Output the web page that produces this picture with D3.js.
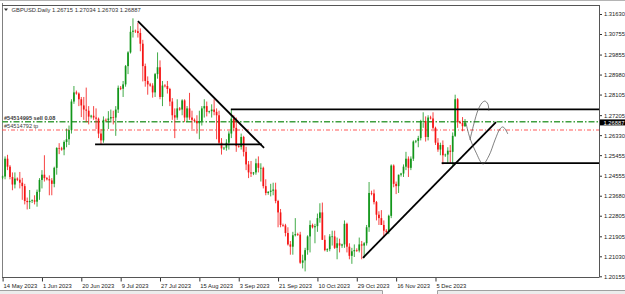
<!DOCTYPE html>
<html>
<head>
<meta charset="utf-8">
<script src="https://cdn.jsdelivr.net/npm/d3@7"></script>
<style>
  body { margin: 0; background: #fff; }
  svg { display: block; }
  text { font-family: "Liberation Sans", Arial, sans-serif; }
</style>
</head>
<body>
<script>
window.document.addEventListener('DOMContentLoaded', init, false);

// one bar per trading day, Sunday bars included (6 per week)
var dates = [
    '2023-05-14','2023-05-15','2023-05-16','2023-05-17','2023-05-18','2023-05-19',
    '2023-05-21','2023-05-22','2023-05-23','2023-05-24','2023-05-25','2023-05-26',
    '2023-05-28','2023-05-29','2023-05-30','2023-05-31','2023-06-01','2023-06-02',
    '2023-06-04','2023-06-05','2023-06-06','2023-06-07','2023-06-08','2023-06-09',
    '2023-06-11','2023-06-12','2023-06-13','2023-06-14','2023-06-15','2023-06-16',
    '2023-06-18','2023-06-19','2023-06-20','2023-06-21','2023-06-22','2023-06-23',
    '2023-06-25','2023-06-26','2023-06-27','2023-06-28','2023-06-29','2023-06-30',
    '2023-07-02','2023-07-03','2023-07-04','2023-07-05','2023-07-06','2023-07-07',
    '2023-07-09','2023-07-10','2023-07-11','2023-07-12','2023-07-13','2023-07-14',
    '2023-07-16','2023-07-17','2023-07-18','2023-07-19','2023-07-20','2023-07-21',
    '2023-07-23','2023-07-24','2023-07-25','2023-07-26','2023-07-27','2023-07-28',
    '2023-07-30','2023-07-31','2023-08-01','2023-08-02','2023-08-03','2023-08-04',
    '2023-08-06','2023-08-07','2023-08-08','2023-08-09','2023-08-10','2023-08-11',
    '2023-08-13','2023-08-14','2023-08-15','2023-08-16','2023-08-17','2023-08-18',
    '2023-08-20','2023-08-21','2023-08-22','2023-08-23','2023-08-24','2023-08-25',
    '2023-08-27','2023-08-28','2023-08-29','2023-08-30','2023-08-31','2023-09-01',
    '2023-09-03','2023-09-04','2023-09-05','2023-09-06','2023-09-07','2023-09-08',
    '2023-09-10','2023-09-11','2023-09-12','2023-09-13','2023-09-14','2023-09-15',
    '2023-09-17','2023-09-18','2023-09-19','2023-09-20','2023-09-21','2023-09-22',
    '2023-09-24','2023-09-25','2023-09-26','2023-09-27','2023-09-28','2023-09-29',
    '2023-10-01','2023-10-02','2023-10-03','2023-10-04','2023-10-05','2023-10-06',
    '2023-10-08','2023-10-09','2023-10-10','2023-10-11','2023-10-12','2023-10-13',
    '2023-10-15','2023-10-16','2023-10-17','2023-10-18','2023-10-19','2023-10-20',
    '2023-10-22','2023-10-23','2023-10-24','2023-10-25','2023-10-26','2023-10-27',
    '2023-10-29','2023-10-30','2023-10-31','2023-11-01','2023-11-02','2023-11-03',
    '2023-11-05','2023-11-06','2023-11-07','2023-11-08','2023-11-09','2023-11-10',
    '2023-11-12','2023-11-13','2023-11-14','2023-11-15','2023-11-16','2023-11-17',
    '2023-11-19','2023-11-20','2023-11-21','2023-11-22','2023-11-23','2023-11-24',
    '2023-11-26','2023-11-27','2023-11-28','2023-11-29','2023-11-30','2023-12-01',
    '2023-12-03','2023-12-04','2023-12-05','2023-12-06','2023-12-07','2023-12-08',
    '2023-12-10','2023-12-11','2023-12-12','2023-12-13','2023-12-14','2023-12-15',
    '2023-12-17','2023-12-18','2023-12-19'
];

var opens = [
    1.2448,1.2452,1.2530,1.2495,1.2450,1.2417,
    1.2443,1.2438,1.2425,1.2410,1.2345,1.2340,
    1.2345,1.2348,1.2342,1.2385,1.2437,1.2460,
    1.2445,1.2440,1.2435,1.2420,1.2490,1.2577,
    1.2575,1.2570,1.2603,1.2615,1.2655,1.2780,
    1.2820,1.2815,1.2790,1.2763,1.2745,1.2740,
    1.2714,1.2718,1.2710,1.2705,1.2640,1.2610,
    1.2700,1.2698,1.2706,1.2712,1.2710,1.2745,
    1.2840,1.2836,1.2855,1.2935,1.2995,1.3085,
    1.3090,1.3088,1.3080,1.3033,1.2935,1.2870,
    1.2855,1.2850,1.2820,1.2900,1.2930,1.2800,
    1.2850,1.2848,1.2835,1.2780,1.2720,1.2710,
    1.2750,1.2745,1.2785,1.2710,1.2750,1.2710,
    1.2700,1.2695,1.2685,1.2695,1.2750,1.2760,
    1.2735,1.2738,1.2745,1.2735,1.2720,1.2600,
    1.2575,1.2578,1.2600,1.2640,1.2705,1.2665,
    1.2585,1.2582,1.2625,1.2560,1.2505,1.2470,
    1.2465,1.2470,1.2510,1.2490,1.2490,1.2410,
    1.2380,1.2385,1.2390,1.2395,1.2345,1.2295,
    1.2240,1.2238,1.2205,1.2155,1.2145,1.2195,
    1.2200,1.2198,1.2075,1.2085,1.2130,1.2190,
    1.2240,1.2230,1.2235,1.2270,1.2295,1.2175,
    1.2130,1.2134,1.2190,1.2190,1.2140,1.2160,
    1.2150,1.2155,1.2245,1.2145,1.2105,1.2125,
    1.2130,1.2128,1.2155,1.2150,1.2160,1.2230,
    1.2380,1.2378,1.2340,1.2285,1.2270,1.2240,
    1.2215,1.2210,1.2280,1.2500,1.2420,1.2410,
    1.2460,1.2465,1.2495,1.2530,1.2490,1.2530,
    1.2605,1.2608,1.2620,1.2695,1.2695,1.2625,
    1.2710,1.2706,1.2665,1.2600,1.2570,1.2590,
    1.2545,1.2548,1.2565,1.2560,1.2630,1.2790,
    1.2690,1.2686,1.26715
];

var highs = [
    1.2456,1.2540,1.2547,1.2502,1.2470,1.2470,
    1.2448,1.2472,1.2446,1.2420,1.2360,1.2393,
    1.2352,1.2370,1.2395,1.2445,1.2480,1.2545,
    1.2450,1.2457,1.2445,1.2495,1.2580,1.2598,
    1.2582,1.2610,1.2662,1.2675,1.2790,1.2848,
    1.2828,1.2820,1.2800,1.2800,1.2841,1.2760,
    1.2722,1.2760,1.2750,1.2710,1.2660,1.2715,
    1.2706,1.2738,1.2745,1.2740,1.2760,1.2850,
    1.2848,1.2870,1.2940,1.3000,1.3110,1.3144,
    1.3095,1.3125,1.3100,1.3050,1.2946,1.2890,
    1.2862,1.2860,1.2905,1.2995,1.2960,1.2870,
    1.2856,1.2870,1.2840,1.2795,1.2750,1.2790,
    1.2756,1.2790,1.2790,1.2760,1.2818,1.2740,
    1.2706,1.2720,1.2740,1.2760,1.2790,1.2780,
    1.2740,1.2768,1.2790,1.2750,1.2740,1.2620,
    1.2582,1.2615,1.2650,1.2746,1.2720,1.2710,
    1.2592,1.2640,1.2630,1.2582,1.2520,1.2520,
    1.2472,1.2530,1.2540,1.2510,1.2495,1.2440,
    1.2388,1.2420,1.2425,1.2425,1.2350,1.2310,
    1.2246,1.2245,1.2230,1.2170,1.2210,1.2270,
    1.2206,1.2210,1.2110,1.2140,1.2195,1.2260,
    1.2246,1.2245,1.2290,1.2335,1.2338,1.2195,
    1.2138,1.2200,1.2215,1.2215,1.2185,1.2180,
    1.2158,1.2260,1.2250,1.2160,1.2140,1.2155,
    1.2138,1.2185,1.2170,1.2165,1.2240,1.2428,
    1.2390,1.2395,1.2345,1.2300,1.2305,1.2260,
    1.2222,1.2285,1.2505,1.2505,1.2430,1.2460,
    1.2468,1.2505,1.2560,1.2540,1.2540,1.2610,
    1.2612,1.2630,1.2700,1.2733,1.2715,1.2720,
    1.2718,1.2733,1.2670,1.2620,1.2600,1.2610,
    1.2552,1.2580,1.2590,1.2645,1.2810,1.2795,
    1.2696,1.2712,1.27034
];

var lows = [
    1.2440,1.2440,1.2480,1.2440,1.2392,1.2400,
    1.2432,1.2400,1.2350,1.2330,1.2308,1.2310,
    1.2336,1.2330,1.2320,1.2350,1.2400,1.2430,
    1.2435,1.2370,1.2370,1.2405,1.2460,1.2550,
    1.2565,1.2545,1.2580,1.2590,1.2640,1.2770,
    1.2810,1.2760,1.2712,1.2700,1.2690,1.2680,
    1.2706,1.2700,1.2660,1.2620,1.2590,1.2600,
    1.2692,1.2660,1.2695,1.2680,1.2630,1.2730,
    1.2830,1.2800,1.2845,1.2900,1.2990,1.3060,
    1.3080,1.3060,1.3000,1.2868,1.2845,1.2810,
    1.2845,1.2797,1.2800,1.2880,1.2790,1.2760,
    1.2842,1.2815,1.2760,1.2700,1.2620,1.2700,
    1.2740,1.2720,1.2690,1.2690,1.2700,1.2660,
    1.2690,1.2640,1.2615,1.2675,1.2710,1.2715,
    1.2728,1.2710,1.2720,1.2615,1.2590,1.2548,
    1.2568,1.2565,1.2570,1.2620,1.2650,1.2560,
    1.2578,1.2570,1.2540,1.2480,1.2445,1.2450,
    1.2458,1.2460,1.2470,1.2430,1.2400,1.2370,
    1.2372,1.2365,1.2370,1.2335,1.2230,1.2230,
    1.2232,1.2190,1.2150,1.2110,1.2110,1.2190,
    1.2192,1.2070,1.2050,1.2037,1.2110,1.2120,
    1.2225,1.2160,1.2210,1.2250,1.2175,1.2125,
    1.2122,1.2125,1.2150,1.2135,1.2090,1.2120,
    1.2140,1.2140,1.2120,1.2090,1.2070,1.2100,
    1.2122,1.2120,1.2090,1.2095,1.2150,1.2210,
    1.2370,1.2330,1.2260,1.2240,1.2240,1.2187,
    1.2205,1.2200,1.2270,1.2405,1.2375,1.2380,
    1.2452,1.2450,1.2480,1.2450,1.2480,1.2520,
    1.2598,1.2580,1.2610,1.2665,1.2605,1.2610,
    1.2702,1.2650,1.2590,1.2560,1.2545,1.2505,
    1.2538,1.2510,1.2510,1.2500,1.2625,1.2665,
    1.2682,1.2650,1.26703
];

var closes = [
    1.2452,1.2530,1.2495,1.2450,1.2417,1.2443,
    1.2438,1.2425,1.2410,1.2345,1.2340,1.2345,
    1.2348,1.2342,1.2385,1.2437,1.2460,1.2445,
    1.2440,1.2435,1.2420,1.2490,1.2577,1.2575,
    1.2570,1.2603,1.2615,1.2655,1.2780,1.2820,
    1.2815,1.2790,1.2763,1.2745,1.2740,1.2714,
    1.2718,1.2710,1.2705,1.2640,1.2610,1.2700,
    1.2698,1.2706,1.2712,1.2710,1.2745,1.2840,
    1.2836,1.2855,1.2935,1.2995,1.3085,1.3090,
    1.3088,1.3080,1.3033,1.2935,1.2870,1.2855,
    1.2850,1.2820,1.2900,1.2930,1.2800,1.2850,
    1.2848,1.2835,1.2780,1.2720,1.2710,1.2750,
    1.2745,1.2785,1.2710,1.2750,1.2710,1.2700,
    1.2695,1.2685,1.2695,1.2750,1.2760,1.2735,
    1.2738,1.2745,1.2735,1.2720,1.2600,1.2575,
    1.2578,1.2600,1.2640,1.2705,1.2665,1.2585,
    1.2582,1.2625,1.2560,1.2505,1.2470,1.2465,
    1.2470,1.2510,1.2490,1.2490,1.2410,1.2380,
    1.2385,1.2390,1.2395,1.2345,1.2295,1.2240,
    1.2238,1.2205,1.2155,1.2145,1.2195,1.2200,
    1.2198,1.2075,1.2085,1.2130,1.2190,1.2240,
    1.2230,1.2235,1.2270,1.2295,1.2175,1.2130,
    1.2134,1.2190,1.2190,1.2140,1.2160,1.2150,
    1.2155,1.2245,1.2145,1.2105,1.2125,1.2130,
    1.2128,1.2155,1.2150,1.2160,1.2230,1.2380,
    1.2378,1.2340,1.2285,1.2270,1.2240,1.2215,
    1.2210,1.2280,1.2500,1.2420,1.2410,1.2460,
    1.2465,1.2495,1.2530,1.2490,1.2530,1.2605,
    1.2608,1.2620,1.2695,1.2695,1.2625,1.2710,
    1.2706,1.2665,1.2600,1.2570,1.2590,1.2545,
    1.2548,1.2565,1.2560,1.2630,1.2790,1.2690,
    1.2686,1.2672,1.26887
];

var timeTicks = ['2023-05-14','2023-06-01','2023-06-20','2023-07-09','2023-07-27','2023-08-15',
                 '2023-09-03','2023-09-21','2023-10-10','2023-10-29','2023-11-16','2023-12-05'];
var priceTicks = [1.31630, 1.30755, 1.29855, 1.28980, 1.28105, 1.27205, 1.26330,
                  1.25455, 1.24555, 1.23680, 1.22805, 1.21905, 1.21030, 1.20155];

var symbol = 'GBPUSD.Daily';
var sellOrder = { label: '#54514995 sell 0.08', price: 1.26918 };
var takeProfit = { label: '#54514792 tp', price: 1.26555 };

// hand drawn objects, as [bar number, price]
var trendDown = [[55.0, 1.3132], [106.3, 1.2577]];
var supportLeft = [[37.6, 1.2593], [105.4, 1.2593]];
var trendUp = [[146.5, 1.2096], [200.6, 1.2690]];
var levelTop = [92.8, 1.2746];      // runs to the right edge
var levelBottom = [178.5, 1.2511];  // runs to the right edge
var sketchDown = [[188.4, 1.2686], [190.0, 1.2620], [192.4, 1.2559], [195.3, 1.2507], [197.7, 1.2542],
                  [200.2, 1.2612], [202.2, 1.2660], [203.4, 1.2669], [204.6, 1.2655], [205.4, 1.2638]];
var sketchUp = [[190.0, 1.2612], [191.6, 1.2682], [193.3, 1.2743], [194.9, 1.2774], [196.1, 1.2782],
                [197.3, 1.2769], [197.7, 1.2739]];

var svg, x, y;
var width = 625;
var height = 294;
var plotLeft = 2, plotRight = 599, plotTop = 5, plotBottom = 277;
var bullColor = '#12961a';
var bearColor = '#f51414';

function init() {
    svg = createCanvas();
    x = d3.scaleLinear().domain([0, dates.length - 1]).range([2.6, 465]);
    y = d3.scaleLinear().domain([1.20155, 1.31630]).range([276.3, 14]);

    drawWindow();
    drawOrderLines();
    drawCandles();
    drawTrendLines();
    drawSketches();
    drawPriceAxis();
    drawTimeAxis();
    drawHeader();
}

function createCanvas() {
    return d3.select('body')
        .append('svg')
        .attr('width', width)
        .attr('height', height);
}

function drawWindow() {
    svg.append('rect').attr('width', width).attr('height', height).attr('fill', '#fff');
    // top border and left edge of the chart
    svg.append('line').attr('x1', 0).attr('x2', width).attr('y1', 0.5).attr('y2', 0.5)
        .attr('stroke', '#b4b4b4');
    svg.append('line').attr('x1', plotLeft + 0.5).attr('x2', plotLeft + 0.5)
        .attr('y1', 3).attr('y2', plotBottom).attr('stroke', '#808080');
    // tab strip at the bottom
    svg.append('rect').attr('x', 0).attr('y', 291).attr('width', width).attr('height', 3).attr('fill', '#ececec');
    svg.append('rect').attr('x', 382).attr('y', 290).attr('width', 56).attr('height', 4).attr('fill', '#fff');
    svg.append('path')
        .attr('d', 'M0,290.5H382.5V294M437.5,294V290.5H625')
        .attr('fill', 'none').attr('stroke', '#a0a0a0');
}

function drawOrderLines() {
    var g = svg.append('g');
    g.append('line')
        .attr('x1', plotLeft).attr('x2', plotRight)
        .attr('y1', y(sellOrder.price)).attr('y2', y(sellOrder.price))
        .attr('stroke', '#3f9f3f').attr('stroke-width', 1.6)
        .attr('stroke-dasharray', '6,2,1.5,2');
    g.append('line')
        .attr('x1', plotLeft).attr('x2', plotRight)
        .attr('y1', y(takeProfit.price)).attr('y2', y(takeProfit.price))
        .attr('stroke', '#ff4646').attr('stroke-width', 0.9)
        .attr('stroke-dasharray', '4,2,1,2');
    g.append('text')
        .attr('x', 4).attr('y', y(sellOrder.price) - 2)
        .attr('font-size', 5.6).attr('font-weight', 'bold').attr('fill', '#3a3a3a')
        .text(sellOrder.label);
    g.append('text')
        .attr('x', 4).attr('y', y(takeProfit.price) - 1.8)
        .attr('font-size', 5.6).attr('fill', '#3a3a3a')
        .text(takeProfit.label);
}

function drawCandles() {
    var bars = svg.append('g')
        .selectAll('g')
        .data(dates)
        .enter()
        .append('g')
        .attr('fill', function(d, i) { return closes[i] >= opens[i] ? bullColor : bearColor; })
        .attr('stroke', function(d, i) { return closes[i] >= opens[i] ? bullColor : bearColor; });

    bars.append('line')
        .attr('x1', function(d, i) { return x(i); })
        .attr('x2', function(d, i) { return x(i); })
        .attr('y1', function(d, i) { return y(highs[i]); })
        .attr('y2', function(d, i) { return y(lows[i]); })
        .attr('stroke-width', 0.8);

    bars.append('rect')
        .attr('x', function(d, i) { return x(i) - 0.85; })
        .attr('width', 1.7)
        .attr('y', function(d, i) { return y(Math.max(opens[i], closes[i])); })
        .attr('height', function(d, i) {
            return Math.max(0.7, Math.abs(y(opens[i]) - y(closes[i])));
        })
        .attr('stroke', 'none');
}

function drawTrendLines() {
    var g = svg.append('g').attr('stroke', '#000').attr('stroke-width', 1.8).attr('fill', 'none');
    var line = d3.line().x(function(p) { return x(p[0]); }).y(function(p) { return y(p[1]); });
    [trendDown, supportLeft, trendUp].forEach(function(seg) {
        g.append('path').attr('d', line(seg));
    });
    [levelTop, levelBottom].forEach(function(lv) {
        g.append('line')
            .attr('x1', x(lv[0])).attr('x2', plotRight)
            .attr('y1', y(lv[1])).attr('y2', y(lv[1]));
    });
}

function drawSketches() {
    var line = d3.line()
        .x(function(p) { return x(p[0]); })
        .y(function(p) { return y(p[1]); })
        .curve(d3.curveCatmullRom);
    [sketchDown, sketchUp].forEach(function(s) {
        svg.append('path')
            .attr('d', line(s))
            .attr('fill', 'none')
            .attr('stroke', '#4a4a4a')
            .attr('stroke-width', 0.7);
    });
}

function drawPriceAxis() {
    var axis = d3.axisRight(y)
        .tickValues(priceTicks)
        .tickFormat(d3.format('.5f'))
        .tickSize(2.5)
        .tickPadding(2);
    var g = svg.append('g')
        .attr('transform', 'translate(' + (plotRight + 0.5) + ',0)')
        .call(axis);
    g.select('.domain').remove();
    g.selectAll('line').attr('stroke', '#333');
    g.selectAll('text').attr('font-size', 5.8).attr('fill', '#222')
        .attr('font-family', '"Liberation Sans", Arial, sans-serif');

    svg.append('line')
        .attr('x1', plotRight + 0.5).attr('x2', plotRight + 0.5)
        .attr('y1', plotTop).attr('y2', plotBottom)
        .attr('stroke', '#555');
    svg.append('line')
        .attr('x1', plotLeft).attr('x2', plotRight + 0.5)
        .attr('y1', plotTop + 0.5).attr('y2', plotTop + 0.5)
        .attr('stroke', '#555');

    // current price box
    var last = closes[closes.length - 1];
    svg.append('rect')
        .attr('x', plotRight + 1).attr('y', y(last) - 3)
        .attr('width', width - plotRight - 1).attr('height', 6)
        .attr('fill', '#000');
    svg.append('text')
        .attr('x', plotRight + 4.5).attr('y', y(last))
        .attr('dy', '0.36em')
        .attr('font-size', 5.8).attr('fill', '#fff')
        .text(d3.format('.5f')(last));
}

function drawTimeAxis() {
    var parse = d3.timeParse('%Y-%m-%d');
    var fmt = d3.timeFormat('%-d %b %Y');
    var axis = d3.axisBottom(x)
        .tickValues(timeTicks.map(function(d) { return dates.indexOf(d); }))
        .tickFormat(function(i) { return fmt(parse(dates[i])); })
        .tickSize(4)
        .tickPadding(2);
    var g = svg.append('g')
        .attr('transform', 'translate(0,' + (plotBottom + 0.5) + ')')
        .call(axis);
    g.select('.domain').remove();
    g.selectAll('line').attr('stroke', '#333');
    g.selectAll('text')
        .attr('text-anchor', 'start')
        .attr('x', 0.5)
        .attr('font-size', 5.8).attr('fill', '#222')
        .attr('font-family', '"Liberation Sans", Arial, sans-serif');

    svg.append('line')
        .attr('x1', plotLeft).attr('x2', plotRight + 0.5)
        .attr('y1', plotBottom + 0.5).attr('y2', plotBottom + 0.5)
        .attr('stroke', '#555');
}

function drawHeader() {
    var n = closes.length - 1;
    var f = d3.format('.5f');
    svg.append('path')
        .attr('d', 'M4,8.5L8,8.5L6,11Z')
        .attr('fill', '#333');
    svg.append('text')
        .attr('x', 11.5).attr('y', 12)
        .attr('font-size', 5.8).attr('fill', '#333')
        .text(symbol + '  ' + f(opens[n]) + ' ' + f(highs[n]) + ' ' + f(lows[n]) + ' ' + f(closes[n]));
}
</script>
</body>
</html>
